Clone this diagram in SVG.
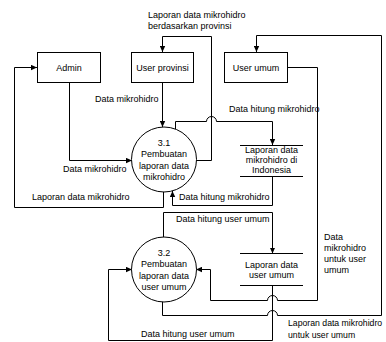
<svg xmlns="http://www.w3.org/2000/svg" width="386" height="342" viewBox="0 0 386 342">
<style>
text{font-family:"Liberation Sans",Arial,sans-serif;font-size:9px;fill:#000}
.m{text-anchor:middle}
.s{font-size:8.7px}
.box{fill:#fff;stroke:#000;stroke-width:1}
.ln{fill:none;stroke:#000;stroke-width:1}
.fl{fill:none;stroke:#000;stroke-width:1;marker-end:url(#ah)}
</style>
<defs>
<marker id="ah" viewBox="0 0 10 10" refX="10" refY="5" markerWidth="6" markerHeight="6" markerUnits="userSpaceOnUse" orient="auto">
<path d="M0,0.5 L10,5 L0,9.5 z" fill="#000"/>
</marker>
</defs>
<rect width="386" height="342" fill="#fff"/>
<g id="connectors">
<path class="fl" d="M162.5,82.5 V127"/>
<path class="fl" d="M69.5,82.5 V160.5 H132"/>
<path class="fl" d="M163.5,191 V207.5 H14.5 V67.5 H37"/>
<path class="fl" d="M196,160.5 H211.5 V36.5 H162.5 V52"/>
<path class="fl" d="M175.5,129 V121.5 H206.5 A5,5 0 0 1 216.5,121.5 H272.5 V145"/>
<path class="fl" d="M272.5,176.5 V205.5 H172.5 V191"/>
<path class="fl" d="M287.5,67.5 H317.5 V300.5 H277.5 A5,5 0 0 0 267.5,300.5 H210.5 V269.5 H196"/>
<path class="fl" d="M162.5,301 V315.5 H267.5 A5,5 0 0 1 277.5,315.5 H381.5 V35.5 H256.5 V52"/>
<path class="fl" d="M163.5,237 V212.5 H272.5 V253.5"/>
<path class="fl" d="M272.5,285.5 V340.5 H108.5 V269.5 H132"/>
<text x="148" y="18">Laporan data mikrohidro</text>
<text x="148" y="29">berdasarkan provinsi</text>
<text x="95" y="102">Data mikrohidro</text>
<text x="63" y="172">Data mikrohidro</text>
<text x="32" y="200">Laporan data mikrohidro</text>
<text x="229" y="112">Data hitung mikrohidro</text>
<text x="179" y="200">Data hitung mikrohidro</text>
<text x="176" y="222">Data hitung user umum</text>
<text x="324" y="239.5">Data</text>
<text x="324" y="250.8">mikrohidro</text>
<text x="324" y="262">untuk user</text>
<text x="324" y="273.4">umum</text>
<text class="s" x="288" y="326">Laporan data mikrohidro</text>
<text class="s" x="288" y="337.5">untuk user umum</text>
<text x="141" y="337">Data hitung user umum</text>
</g>
<g id="admin">
<rect class="box" x="37.5" y="52.5" width="63" height="30"/>
<text class="m" x="69" y="70.5">Admin</text>
</g>
<g id="user-provinsi">
<rect class="box" x="131.5" y="52.5" width="62" height="30"/>
<text class="m" x="162.5" y="70.5">User provinsi</text>
</g>
<g id="user-umum">
<rect class="box" x="224.5" y="52.5" width="63" height="30"/>
<text class="m" x="256" y="70.5">User umum</text>
</g>
<g id="p31">
<circle class="box" cx="164" cy="159.5" r="32.5"/>
<text class="m" x="164" y="146">3.1</text>
<text class="m" x="164" y="157.3">Pembuatan</text>
<text class="m" x="164" y="168.6">laporan data</text>
<text class="m" x="164" y="180">mikrohidro</text>
</g>
<g id="p32">
<circle class="box" cx="164" cy="269.5" r="32.5"/>
<text class="m" x="164" y="256">3.2</text>
<text class="m" x="164" y="267.3">Pembuatan</text>
<text class="m" x="164" y="278.6">laporan data</text>
<text class="m" x="164" y="290">user umum</text>
</g>
<g id="store1">
<path class="ln" d="M240,145.5 H303 M240,176.5 H303"/>
<text class="m" x="271.5" y="153">Laporan data</text>
<text class="m" x="271.5" y="163">mikrohidro di</text>
<text class="m" x="271.5" y="173">Indonesia</text>
</g>
<g id="store2">
<path class="ln" d="M240,253.5 H303 M240,285.5 H303"/>
<text class="m" x="271.5" y="267.5">Laporan data</text>
<text class="m" x="271.5" y="278.3">user umum</text>
</g>
</svg>
